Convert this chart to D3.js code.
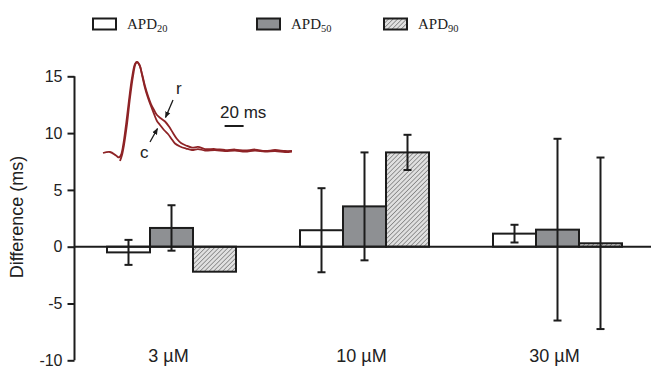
<!DOCTYPE html>
<html>
<head>
<meta charset="utf-8">
<script src="https://cdn.jsdelivr.net/npm/d3@7"></script>
<style>
  body { margin: 0; background: #fff; }
  svg { display: block; font-family: "Liberation Sans", Arial, sans-serif; }
</style>
</head>
<body>
<svg id="chart" width="651" height="368"></svg>
<script>
// data
const concentrations = ["3 µM", "10 µM", "30 µM"];
const seriesNames = ["APD20", "APD50", "APD90"];
const apd20 = [-0.5, 1.45, 1.15];
const apd50 = [1.65, 3.55, 1.5];
const apd90 = [-2.2, 8.3, 0.3];
const apd20Err = [1.1, 3.7, 0.78];
const apd50Err = [2.0, 4.75, 8.0];
const apd90Err = [null, 1.55, 7.55];
const yTicks = [-10, -5, 0, 5, 10, 15];

// inset action potential traces (ms, mV)
const traceC = [[0,-80],[7.4,-78.8],[13.7,-83],[16.8,-85.4],[18.9,-82.4],[21.1,-71.5],[24.2,-46.2],[27.4,-15.9],[30.5,10.7],[33.7,27.6],[35.8,30],[38.4,26.4],[41.1,14.3],[44.2,-1.4],[47.4,-13.5],[50.5,-23.2],[53.7,-32.8],[56.8,-41.3],[60,-46.1],[64.2,-52.2],[68.4,-57],[72.6,-63.7],[75.8,-68.5],[81.1,-72.1],[87.4,-74.6],[93.7,-76.4],[100,-75.2],[107.4,-77],[117.9,-76.4],[128.4,-77.6],[138.9,-77],[149.5,-78.2],[160,-77],[170.5,-78.2],[181.1,-77.6],[191.6,-78.8],[198.9,-78.2]];
const traceR = [[17.9,-89.7],[20,-82.4],[22.1,-70.3],[25.3,-44.9],[28.4,-13.5],[31.6,13.1],[34.2,27.6],[35.8,30],[38.4,26.4],[41.1,15.5],[44.2,1],[47.4,-11.1],[50.5,-20.8],[53.7,-28],[56.8,-34.1],[61.1,-38.3],[65.3,-41.9],[69.5,-48],[73.7,-55.8],[77.9,-63.1],[82.1,-67.9],[87.4,-70.9],[93.7,-73.4],[100,-72.7],[107.4,-75.2],[117.9,-75.2],[128.4,-76.4],[138.9,-75.8],[149.5,-77],[160,-75.8],[170.5,-77.6],[181.1,-76.4],[191.6,-77.6],[198.9,-77.6]];
const scaleBarMs = 20;

const svg = d3.select("#chart");
const ink = "#1c1c1c";

const defs = svg.append("defs");
const pat = defs.append("pattern")
    .attr("id", "hatch")
    .attr("patternUnits", "userSpaceOnUse")
    .attr("width", 3.2).attr("height", 3.2)
    .attr("patternTransform", "rotate(45)");
pat.append("rect").attr("width", 3.2).attr("height", 3.2).attr("fill", "#e0e0e0");
pat.append("line").attr("x1", 0).attr("y1", 0).attr("x2", 0).attr("y2", 3.2)
    .attr("stroke", "#6f6f6f").attr("stroke-width", 1.3);

const fills = { APD20: "#ffffff", APD50: "#8e9093", APD90: "url(#hatch)" };

const y = d3.scaleLinear().domain([-10, 15]).range([360.3, 76.3]);
const x0 = d3.scaleBand().domain(concentrations).range([75, 654]).padding(0);
const x1 = d3.scaleBand().domain(seriesNames).range([32, 161]).padding(0);

const rows = [];
concentrations.forEach((c, i) => {
  rows.push({ c, s: "APD20", v: apd20[i], e: apd20Err[i] });
  rows.push({ c, s: "APD50", v: apd50[i], e: apd50Err[i] });
  rows.push({ c, s: "APD90", v: apd90[i], e: apd90Err[i] });
});

// y axis
const yAxis = svg.append("g")
    .attr("transform", "translate(74.5,0)")
    .call(d3.axisLeft(y).tickValues(yTicks).tickSize(7).tickPadding(5).tickFormat(d => String(d)));
yAxis.select(".domain").attr("stroke", ink).attr("stroke-width", 2).attr("d", `M0,${y(15)}V${y(-10)}`);
yAxis.selectAll(".tick line").attr("stroke", ink).attr("stroke-width", 2);
yAxis.selectAll(".tick text").attr("fill", "#222").style("font-size", "16px")
    .style("font-family", "Liberation Sans, Arial, sans-serif");

svg.append("text")
    .attr("transform", "translate(23,217) rotate(-90)")
    .attr("text-anchor", "middle")
    .attr("fill", "#222")
    .style("font-size", "18px")
    .text("Difference (ms)");

// bars
svg.append("g").selectAll("rect")
  .data(rows)
  .join("rect")
    .attr("x", d => x0(d.c) + x1(d.s))
    .attr("width", x1.bandwidth())
    .attr("y", d => y(Math.max(0, d.v)))
    .attr("height", d => Math.abs(y(d.v) - y(0)))
    .attr("fill", d => fills[d.s])
    .attr("stroke", ink)
    .attr("stroke-width", 2);

// zero line
svg.append("line")
    .attr("x1", 75).attr("x2", 651)
    .attr("y1", y(0)).attr("y2", y(0))
    .attr("stroke", ink).attr("stroke-width", 2);

// error bars
const eb = svg.append("g").selectAll("g")
  .data(rows.filter(d => d.e != null))
  .join("g")
    .attr("transform", d => `translate(${x0(d.c) + x1(d.s) + x1.bandwidth() / 2},0)`)
    .attr("stroke", ink).attr("stroke-width", 2);
eb.append("line").attr("y1", d => y(d.v - d.e)).attr("y2", d => y(d.v + d.e));
eb.append("line").attr("x1", -4).attr("x2", 4).attr("y1", d => y(d.v + d.e)).attr("y2", d => y(d.v + d.e));
eb.append("line").attr("x1", -4).attr("x2", 4).attr("y1", d => y(d.v - d.e)).attr("y2", d => y(d.v - d.e));

// category labels
svg.append("g").selectAll("text")
  .data(concentrations)
  .join("text")
    .attr("x", d => x0(d) + x0.bandwidth() / 2 - 3)
    .attr("y", 362)
    .attr("text-anchor", "middle")
    .attr("fill", "#222")
    .style("font-size", "18px")
    .text(d => d);

// legend
const legX = [93, 257, 384];
const leg = svg.append("g").selectAll("g")
  .data(seriesNames)
  .join("g")
    .attr("transform", (d, i) => `translate(${legX[i]},18.5)`);
leg.append("rect")
    .attr("width", 23).attr("height", 11)
    .attr("fill", d => fills[d])
    .attr("stroke", ink).attr("stroke-width", 2);
const lt = leg.append("text")
    .attr("x", 34).attr("y", 10.5)
    .attr("fill", "#222")
    .style("font-family", "Liberation Serif, Times New Roman, serif")
    .style("font-size", "15px");
lt.append("tspan").text("APD");
lt.append("tspan").attr("dy", 2.5).style("font-size", "10.5px").text(d => d.slice(3));

// inset traces
const tx = d3.scaleLinear().domain([0, 200]).range([103, 293]);
const ty = d3.scaleLinear().domain([-80, 30]).range([153, 62]);
const traceLine = d3.line().x(d => tx(d[0])).y(d => ty(d[1])).curve(d3.curveCatmullRom);
const traceColor = "#8e2326";
[traceC, traceR].forEach(tr => {
  svg.append("path")
      .attr("d", traceLine(tr))
      .attr("fill", "none")
      .attr("stroke", traceColor)
      .attr("stroke-width", 1.8);
});

// arrows
defs.append("marker")
    .attr("id", "arr")
    .attr("viewBox", "0 0 10 10")
    .attr("refX", 9).attr("refY", 5)
    .attr("markerWidth", 5).attr("markerHeight", 5)
    .attr("orient", "auto")
  .append("path").attr("d", "M0,1L10,5L0,9Z").attr("fill", ink);

svg.append("line")
    .attr("x1", 173).attr("y1", 100).attr("x2", 165.5).attr("y2", 117.5)
    .attr("stroke", ink).attr("stroke-width", 1.3).attr("marker-end", "url(#arr)");
svg.append("line")
    .attr("x1", 150).attr("y1", 142).attr("x2", 157.5).attr("y2", 128.5)
    .attr("stroke", ink).attr("stroke-width", 1.3).attr("marker-end", "url(#arr)");

svg.append("text").attr("x", 176).attr("y", 94).attr("fill", "#222")
    .style("font-size", "17px").text("r");
svg.append("text").attr("x", 140).attr("y", 158).attr("fill", "#222")
    .style("font-size", "17px").text("c");

// scale bar
svg.append("line")
    .attr("x1", tx(128)).attr("x2", tx(128 + scaleBarMs))
    .attr("y1", 126).attr("y2", 126)
    .attr("stroke", ink).attr("stroke-width", 2);
svg.append("text").attr("x", 220).attr("y", 118).attr("fill", "#222")
    .style("font-size", "17px").text("20 ms");
</script>
</body>
</html>
